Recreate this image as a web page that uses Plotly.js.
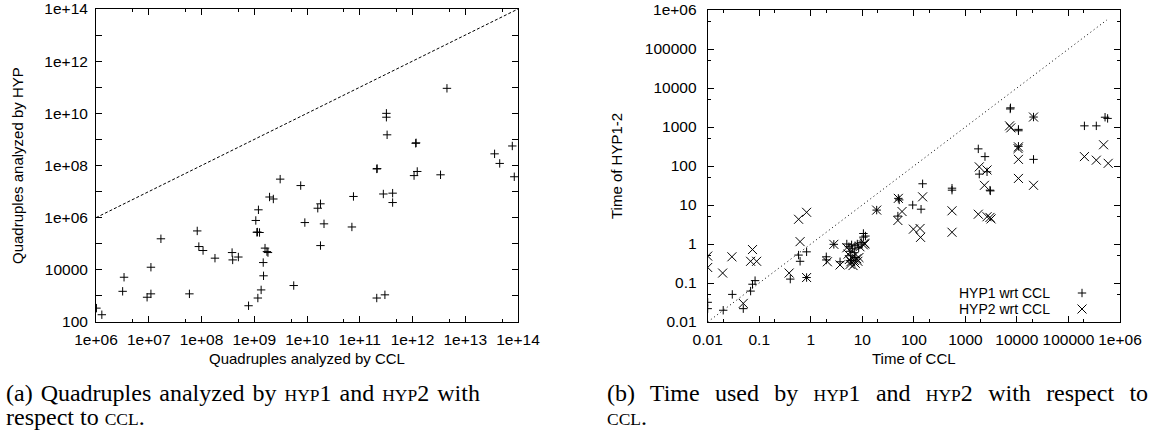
<!DOCTYPE html>
<html><head><meta charset="utf-8">
<script src="https://cdn.plot.ly/plotly-3.0.1.min.js"></script>
<style>html,body{margin:0;padding:0;background:#fff}#chart{width:1149px;height:437px}</style>
</head><body><div id="chart"></div>
<script>
// ---------- Panel (a): quadruples analyzed ----------
const quadCCL = [4.5e12,3.2e11,3.2e11,3.3e11,1.15e12,1.17e12,2.1e11,2.14e11,1.07e12,1.23e12,3.4e12,3.6e13,4.5e13,7.8e13,8.5e13,
  7.6e9,3.1e9,7.6e10,2.8e11,4.2e11,4.2e11,1.8e10,1.6e10,9.1e9,2.1e10,7.1e10,1.8e10,5.6e9,2.1e11,3.0e11,
  1.95e9,2.3e9,1.2e9,1.07e9,1.12e9,1.15e9,1.26e9,8.3e7,1.7e7,8.9e7,1.07e8,1.8e8,3.8e8,3.9e8,5.0e8,
  1.6e9,1.74e9,1.82e9,1.48e9,1.5e9,1.35e9,1.17e9,7.8e8,1.1e7,3.4e6,3.2e6,9.3e6,1.1e7,5.9e7,1.02e6,1.29e6];
const quadHYP = [9.1e10,1.0e10,7.1e9,1.5e9,7.1e8,7.4e8,7.4e7,7.6e7,4.1e7,5.9e7,4.4e7,2.8e8,1.2e8,5.6e8,3.7e7,
  1.7e7,3.0e7,6.5e6,8.1e6,8.7e6,3.8e6,3.4e6,2.3e6,6.5e5,5.8e5,4.4e5,8.5e4,2.5e3,830,1100,
  6.2e6,5.2e6,2.0e6,7.8e5,2.75e5,2.8e5,2.7e5,3.1e5,1.55e5,7.8e4,5.5e4,2.8e4,4.6e4,2.4e4,3.1e4,
  6.8e4,5.0e4,4.6e4,1.9e4,5.9e3,1.7e3,830,420,1.26e4,5.2e3,1.5e3,890,1.2e3,1.2e3,340,190];
const diagLeft = [1e6, 1e14];

// ---------- Panel (b): time ----------
const hyp1CCL = [0.01,0.01,0.02,0.03,0.049,0.068,0.074,0.083,0.40,0.58,0.62,0.83,0.83,2.0,2.0,2.8,3.7,
  5.0,5.5,5.8,6.0,6.2,6.5,7.0,7.2,7.5,8.0,8.5,9.5,10.5,11.5,6.0,
  10.5,19,50,52,95,138,49,148,550,550,1780,2400,1860,2630,3000,3050,7400,7500,10700,10700,10700,21000,21000,204000,347000,513000,575000];
const hyp1Time = [0.032,0.022,0.020,0.051,0.022,0.062,0.093,0.115,0.126,0.52,0.36,0.63,0.138,0.47,0.39,0.98,0.35,
  1.0,0.85,0.65,0.5,0.95,0.75,0.6,0.9,0.45,1.0,0.8,1.1,1.5,1.6,0.38,
  1.86,7.4,14.8,13.5,10,7.8,5.2,35,24,27,275,174,62,71,24,23,2900,3100,870,800,320,148,1800,1070,1070,1780,1660];
const hyp2CCL = [0.01,0.01,0.0195,0.0295,0.074,0.068,0.089,0.049,0.38,0.58,0.83,0.62,0.83,2.8,2.1,3.7,
  5.0,5.3,5.6,5.8,6.0,6.3,6.6,7.0,7.3,7.8,8.2,8.6,10.5,11.0,9.0,
  11.2,19,50,59,49,148,98,132,135,550,550,1780,2630,3000,3150,2340,1860,2630,7200,7600,10700,10500,10700,10700,21000,21000,480000,204000,347000,590000];
const hyp2Time = [0.49,0.25,0.18,0.47,0.72,0.36,0.36,0.030,0.18,4.3,6.5,1.15,0.138,0.98,0.35,0.29,
  0.8,0.55,0.4,0.3,0.35,0.45,0.28,0.38,0.32,0.42,0.36,0.45,0.95,1.05,0.85,
  1.0,7.4,14.8,6.8,4.0,16.2,2.4,2.5,1.48,7.1,2.0,5.8,5.0,4.8,4.4,32,95,79,1070,950,310,280,148,48,1800,32,350,174,141,117];
const diagRight = [0.01, 5.6e5];

// ---------- Tick labels ----------
const leftXTicks = [1e6,1e7,1e8,1e9,1e10,1e11,1e12,1e13,1e14];
const leftXText = ['1e+06','1e+07','1e+08','1e+09','1e+10','1e+11','1e+12','1e+13','1e+14'];
const leftYTicks = [1e2,1e3,1e4,1e5,1e6,1e7,1e8,1e9,1e10,1e11,1e12,1e13,1e14];
const leftYText = ['100','','10000','','1e+06','','1e+08','','1e+10','','1e+12','','1e+14'];
const rightTicks = [0.01,0.1,1,10,100,1000,10000,100000,1e6];
const rightText = ['0.01','0.1','1','10','100','1000','10000','100000','1e+06'];
const leftXMinor = [5e6,5e7,5e8,5e9,5e10,5e11,5e12,5e13];
const rightXMinor = [0.02,0.2,2,20,200,2000,20000,200000];
const rightYMinor = [0.05,0.5,5,50,500,5000,50000,500000];

const W = 1149, H = 437;
const px = v => v / W, py = v => 1 - v / H;
const FONT = 'Liberation Sans, Arial, Helvetica, sans-serif';
const SERIF = 'Liberation Serif, Times New Roman, serif';
const TS = 15.5;   // tick labels
const LS = 15;     // axis titles

function axis(extra) {
  return Object.assign({
    type: 'log', ticks: 'inside', ticklen: 6, tickwidth: 1, tickcolor: '#000',
    showline: true, linecolor: '#000', linewidth: 1, mirror: 'allticks',
    showgrid: false, zeroline: false, tickmode: 'array',
    tickfont: {family: FONT, size: TS, color: '#000'}, fixedrange: true
  }, extra);
}
const minorOf = vals => ({tickmode: 'array', tickvals: vals, ticks: 'inside', ticklen: 3, tickcolor: '#000', tickwidth: 1});

const plusMarker = {symbol: 'cross-thin-open', size: 6, color: '#000', line: {color: '#000', width: 1}};
const crossMarker = {symbol: 'x-thin-open', size: 9, color: '#000', line: {color: '#000', width: 1}};

const traces = [
  {x: diagLeft, y: diagLeft, xaxis: 'x', yaxis: 'y', mode: 'lines', name: 'y = x',
   line: {color: '#000', width: 1, dash: '3px,2px'}, showlegend: false, hoverinfo: 'skip'},
  {x: quadCCL, y: quadHYP, xaxis: 'x', yaxis: 'y', mode: 'markers', name: 'Quadruples',
   marker: plusMarker, showlegend: false},
  {x: diagRight, y: diagRight, xaxis: 'x2', yaxis: 'y2', mode: 'lines', name: 'y = x',
   line: {color: '#000', width: 1, dash: '1px,3px'}, showlegend: false, hoverinfo: 'skip'},
  {x: hyp1CCL, y: hyp1Time, xaxis: 'x2', yaxis: 'y2', mode: 'markers', name: 'HYP1 wrt CCL',
   marker: plusMarker, showlegend: false},
  {x: hyp2CCL, y: hyp2Time, xaxis: 'x2', yaxis: 'y2', mode: 'markers', name: 'HYP2 wrt CCL',
   marker: crossMarker, showlegend: false},
  // legend keys (symbol only; the label text sits to their left, as in the original)
  {x: [null], y: [null], xaxis: 'x2', yaxis: 'y2', mode: 'markers', name: '', legend: 'legend',
   marker: plusMarker, showlegend: true, hoverinfo: 'skip'},
  {x: [null], y: [null], xaxis: 'x2', yaxis: 'y2', mode: 'markers', name: '', legend: 'legend2',
   marker: crossMarker, showlegend: true, hoverinfo: 'skip'}
];

function ann(text, x, y, opts) {
  return Object.assign({text: text, x: px(x), y: py(y), xref: 'paper', yref: 'paper',
    showarrow: false, xanchor: 'center', yanchor: 'middle',
    font: {family: FONT, size: LS, color: '#000'}}, opts || {});
}
const sc = t => '<span style="font-size:17.5px">' + t + '</span>';
const ws = (t, n) => '<span style="word-spacing:' + n + 'px">' + t + '</span>';
const capFont = {family: SERIF, size: 24, color: '#000'};
const keyFont = {family: FONT, size: 14, color: '#000'};

const layout = {
  width: W, height: H, margin: {l: 0, r: 0, t: 0, b: 0},
  paper_bgcolor: '#fff', plot_bgcolor: '#fff',
  font: {family: FONT, size: LS, color: '#000'},
  showlegend: true,
  xaxis: axis({domain: [px(96), px(518)], range: [6, 14], anchor: 'y',
    tickvals: leftXTicks, ticktext: leftXText, ticklabelstandoff: 3, minor: minorOf(leftXMinor)}),
  yaxis: axis({domain: [py(322), py(9)], range: [2, 14], anchor: 'x',
    tickvals: leftYTicks, ticktext: leftYText, ticklabelstandoff: 4}),
  xaxis2: axis({domain: [px(707.7), px(1120)], range: [-2, 6], anchor: 'y2',
    tickvals: rightTicks, ticktext: rightText, ticklabelstandoff: 3, minor: minorOf(rightXMinor)}),
  yaxis2: axis({domain: [py(322), py(10)], range: [-2, 6], anchor: 'x2',
    tickvals: rightTicks, ticktext: rightText, ticklabelstandoff: 7, minor: minorOf(rightYMinor)}),
  legend: {x: px(1062), y: py(293), xanchor: 'left', yanchor: 'middle', bgcolor: 'rgba(0,0,0,0)',
    borderwidth: 0, font: {size: 10}},
  legend2: {x: px(1062), y: py(309), xanchor: 'left', yanchor: 'middle', bgcolor: 'rgba(0,0,0,0)',
    borderwidth: 0, font: {size: 10}},
  annotations: [
    ann('Quadruples analyzed by CCL', 307, 358),
    ann('Quadruples analyzed by HYP', 17.5, 165.5, {textangle: -90}),
    ann('Time of CCL', 914, 358),
    ann('Time of HYP1-2', 616, 166, {textangle: -90}),
    ann('HYP1 wrt CCL', 1052, 293, {xanchor: 'right', font: keyFont}),
    ann('HYP2 wrt CCL', 1052, 309, {xanchor: 'right', font: keyFont}),
    ann(ws('(a) Quadruples analyzed by ' + sc('HYP') + '1 and ' + sc('HYP') + '2 with', 2), 4, 393, {xanchor: 'left', font: capFont}),
    ann('respect to ' + sc('CCL') + '.', 4, 417, {xanchor: 'left', font: capFont}),
    ann(ws('(b) Time used by ' + sc('HYP') + '1 and ' + sc('HYP') + '2 with respect to', 9.3), 605, 393, {xanchor: 'left', font: capFont}),
    ann(sc('CCL') + '.', 605, 417, {xanchor: 'left', font: capFont})
  ]
};

Plotly.newPlot('chart', traces, layout, {staticPlot: true, displayModeBar: false});
</script></body></html>
